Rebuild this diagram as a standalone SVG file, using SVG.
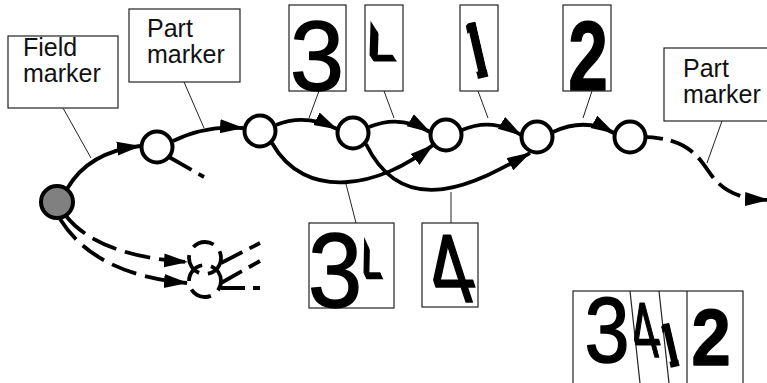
<svg xmlns="http://www.w3.org/2000/svg" width="767" height="383" viewBox="0 0 767 383">
  <style>
    .box { fill: #fff; stroke: #222; stroke-width: 1.2; }
    .label { font-family: "Liberation Sans", Arial, sans-serif; font-size: 25px; fill: #111; }
    .hw { font-family: "Liberation Sans", Arial, sans-serif; fill: #000; stroke: #000; stroke-width: 1.5; stroke-linejoin: round; }
    .edge { fill: none; stroke: #000; stroke-width: 3.8; }
    .dash { fill: none; stroke: #000; stroke-width: 3.8; stroke-dasharray: 26 9; }
    .lead { fill: none; stroke: #222; stroke-width: 1; }
    .node { fill: #fff; stroke: #000; stroke-width: 4; }
    .start { fill: #808080; stroke: #000; stroke-width: 4; }
    .ghost { fill: none; stroke: #000; stroke-width: 3.8; stroke-dasharray: 22 9; }
    .sep { stroke: #222; stroke-width: 1.2; }
  </style>
  <defs>
    <marker id="arrow" markerUnits="userSpaceOnUse" markerWidth="26" markerHeight="16" refX="23" refY="8" orient="auto">
      <path d="M0,1 L24,8 L0,15 z" fill="#000"/>
    </marker>
    <!-- keep only the left stroke and bar of a "4" (local glyph space) -->
    <clipPath id="clip-frag-78"><rect x="-20" y="-80" width="44.5" height="100"/></clipPath>
    <clipPath id="clip-frag-80"><rect x="-20" y="-82" width="45" height="102"/></clipPath>
    <!-- keep only the upright of a "1" (local glyph space) -->
    <clipPath id="clip-stem-80"><rect x="-5.3" y="-80" width="10.6" height="100"/></clipPath>
    <clipPath id="clip-stem-62"><rect x="-4.5" y="-60" width="9" height="80"/></clipPath>
  </defs>

  <rect width="767" height="383" fill="#fff"/>

  <!-- connectors: lattice edges and callout leaders -->
  <g id="connectors">
    <path class="edge" d="M67,189 Q88,152 140,146" marker-end="url(#arrow)"/>
    <path class="edge" d="M173,141 Q205,125 243,128" marker-end="url(#arrow)"/>
    <path class="edge" d="M276,125 Q305,113 337,129" marker-end="url(#arrow)"/>
    <path class="edge" d="M272,143 C305,202 380,188 433,145" marker-end="url(#arrow)"/>
    <path class="edge" d="M369,127 Q400,114 430,132" marker-end="url(#arrow)"/>
    <path class="edge" d="M366,144 C405,224 480,181 530,153" marker-end="url(#arrow)"/>
    <path class="edge" d="M462,130 Q492,117 521,135" marker-end="url(#arrow)"/>
    <path class="edge" d="M553,132 Q585,117 614,133" marker-end="url(#arrow)"/>
    <path class="dash" style="stroke-dasharray:25 8" d="M638,137 C690,136 700,160 712,176 C725,193 742,199 768,200" marker-end="url(#arrow)"/>
    <path class="dash" style="stroke-dasharray:26 8" d="M169,157 L204,177"/>
    <path class="dash" d="M66,216 Q98,256 187,262" marker-end="url(#arrow)"/>
    <path class="dash" d="M60,219 Q95,275 187,283" marker-end="url(#arrow)"/>
    <path class="dash" style="stroke-dasharray:24 8" d="M221,263 L260,243"/>
    <path class="dash" style="stroke-dasharray:24 8" d="M221,283 L260,261"/>
    <path class="dash" style="stroke-dasharray:24 8" d="M221,288 L260,288"/>

    <line class="lead" x1="63" y1="108" x2="91" y2="158"/>
    <line class="lead" x1="184" y1="82" x2="204" y2="128"/>
    <line class="lead" x1="319" y1="91" x2="309" y2="118"/>
    <line class="lead" x1="384" y1="91" x2="394" y2="118"/>
    <line class="lead" x1="478" y1="91" x2="488" y2="118"/>
    <line class="lead" x1="592" y1="91" x2="583" y2="118"/>
    <line class="lead" x1="722" y1="121" x2="707" y2="163"/>
    <line class="lead" x1="356" y1="223" x2="346" y2="184"/>
    <line class="lead" x1="451" y1="223" x2="451" y2="192"/>
  </g>

  <!-- lattice nodes -->
  <g id="node-start"><circle class="start" cx="57" cy="202" r="16"/></g>
  <g id="node-1"><circle class="node" cx="157" cy="147" r="15.5"/></g>
  <g id="node-2"><circle class="node" cx="260" cy="131" r="15.5"/></g>
  <g id="node-3"><circle class="node" cx="353" cy="133" r="15.5"/></g>
  <g id="node-4"><circle class="node" cx="446" cy="135" r="15.5"/></g>
  <g id="node-5"><circle class="node" cx="537" cy="137" r="15.5"/></g>
  <g id="node-6"><circle class="node" cx="630" cy="137" r="15.5"/></g>
  <g id="node-alt-a"><circle class="ghost" cx="205" cy="258" r="16"/></g>
  <g id="node-alt-b"><circle class="ghost" cx="205" cy="281" r="16" stroke-dashoffset="12"/></g>

  <!-- callout labels -->
  <g id="label-field">
    <rect class="box" x="8" y="36" width="110" height="72"/>
    <text class="label" x="23" y="56">Field</text>
    <text class="label" x="23" y="82">marker</text>
  </g>
  <g id="label-part-a">
    <rect class="box" x="129" y="9" width="111" height="73"/>
    <text class="label" x="147" y="37">Part</text>
    <text class="label" x="147" y="63">marker</text>
  </g>
  <g id="label-part-b">
    <rect class="box" x="664" y="48" width="110" height="73"/>
    <text class="label" x="683" y="77">Part</text>
    <text class="label" x="683" y="103">marker</text>
  </g>

  <!-- segment images -->
  <g id="seg-3">
    <rect class="box" x="289" y="5" width="57" height="86"/>
    <text class="hw" font-size="99" text-anchor="middle" transform="translate(317,89.5) scale(0.98,1)">3</text>
  </g>
  <g id="seg-4a">
    <rect class="box" x="365" y="5" width="38" height="86"/>
    <g transform="translate(380,73.3) skewX(33)" clip-path="url(#clip-frag-78)">
      <text class="hw" font-size="78" stroke-width="4">4</text>
    </g>
  </g>
  <g id="seg-1">
    <rect class="box" x="460" y="5" width="38" height="86"/>
    <g transform="translate(483,77) rotate(-13)" clip-path="url(#clip-stem-80)">
      <text class="hw" font-size="80" stroke-width="2.2" x="-22.9">1</text>
    </g>
  </g>
  <g id="seg-2">
    <rect class="box" x="563" y="5" width="48" height="86"/>
    <text class="hw" font-size="99" font-weight="bold" text-anchor="middle" transform="translate(588,89.5) scale(0.72,1)">2</text>
  </g>
  <g id="seg-34">
    <rect class="box" x="309" y="223" width="85" height="85"/>
    <text class="hw" font-size="106" text-anchor="middle" transform="translate(335,307) scale(0.92,1)">3</text>
    <g transform="translate(371,290.6) skewX(24.5) scale(0.7,1)" clip-path="url(#clip-frag-80)">
      <text class="hw" font-size="80" stroke-width="4">4</text>
    </g>
  </g>
  <g id="seg-4b">
    <rect class="box" x="422" y="223" width="56" height="84"/>
    <text class="hw" font-size="97" stroke-width="2.5" transform="translate(439,302) skewX(18) scale(0.8,1)">4</text>
  </g>
  <g id="result-3412">
    <rect class="box" x="573" y="291" width="170" height="100"/>
    <line class="sep" x1="630" y1="291" x2="640" y2="383"/>
    <line class="sep" x1="659" y1="291" x2="669" y2="383"/>
    <line class="sep" x1="687" y1="291" x2="687" y2="383"/>
    <text class="hw" font-size="92" text-anchor="middle" transform="translate(607,362) scale(0.88,1)">3</text>
    <text class="hw" font-size="78" stroke-width="2.5" transform="translate(638,357) skewX(15) scale(0.62,1)">4</text>
    <g transform="translate(675,366) rotate(-13)" clip-path="url(#clip-stem-62)">
      <text class="hw" font-size="62" stroke-width="2" x="-17.7">1</text>
    </g>
    <text class="hw" font-size="80" font-weight="bold" text-anchor="middle" transform="translate(711,365) scale(0.88,1)">2</text>
  </g>
</svg>
